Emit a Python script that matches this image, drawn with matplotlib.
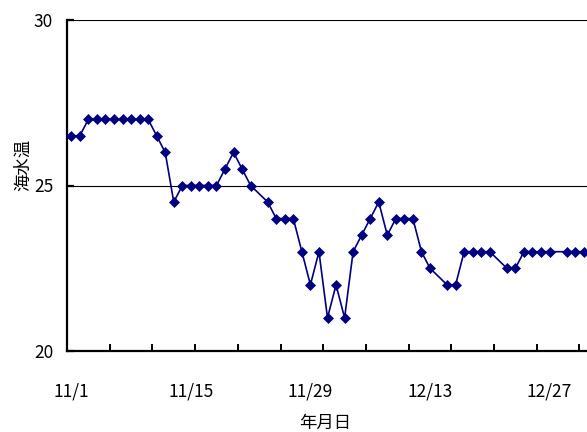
import numpy as np
import matplotlib
matplotlib.use("Agg")
import matplotlib.pyplot as plt

plt.rcParams['font.family'] = ['Noto Sans CJK JP', 'DejaVu Sans']

# Daily categories, 11/1 .. 12/31
dates = [f"11/{d}" for d in range(1, 31)] + [f"12/{d}" for d in range(1, 32)]

# Sea water temperature (None = no observation)
temps = [26.5, 26.5, 27, 27, 27, 27, 27, 27, 27, 27,
         26.5, 26, 24.5, 25, 25, 25, 25, 25, 25.5, 26,
         25.5, 25, None, 24.5, 24, 24, 24, 23, 22, 23,
         21, 22, 21, 23, 23.5, 24, 24.5, 23.5, 24, 24,
         24, 23, 22.5, None, 22, 22, 23, 23, 23, 23,
         None, 22.5, 22.5, 23, 23, 23, 23, None, 23, 23,
         23]

shown_labels = ["11/1", "11/15", "11/29", "12/13", "12/27"]
y_ticks = [20, 25, 30]

W, H = 587, 432
fig = plt.figure(figsize=(W / 100, H / 100), dpi=100)
ax = fig.add_axes([67 / W, (H - 351) / H, 521 / W, 331 / H])

x = np.arange(len(dates))
y = np.array([np.nan if v is None else v for v in temps], dtype=float)
ok = ~np.isnan(y)

navy = "#000080"
ax.plot(x[ok], y[ok], color=navy, lw=1.2, marker="D", ms=5.6,
        mfc=navy, mec=navy, mew=0.5, zorder=3, clip_on=False)

ax.set_xlim(-0.5, len(dates) - 0.5)
ax.set_ylim(20, 30)

# horizontal gridlines
for v in y_ticks[1:]:
    ax.axhline(v, color="black", lw=0.8, zorder=1)

ax.spines["top"].set_visible(False)
ax.spines["right"].set_visible(False)
for s in ("left", "bottom"):
    ax.spines[s].set_linewidth(1.6)
    ax.spines[s].set_color("black")

# x axis: labels at category centres, tick marks every 5 categories
ax.set_xticks([dates.index(l) for l in shown_labels])
ax.set_xticklabels(shown_labels)
ax.set_xticks(np.arange(-0.5, len(dates), 5), minor=True)
ax.tick_params(axis="x", which="major", length=0, pad=23, labelsize=12.5)
ax.tick_params(axis="x", which="minor", direction="in", length=5, width=1.4)

ax.set_yticks(y_ticks)
ax.tick_params(axis="y", direction="in", length=5, width=1.6, pad=10,
               labelsize=12.5)

fig.text(325 / W, 1 - 423 / H, "年月日", ha="center", va="center",
         fontsize=12.5)
fig.text(23 / W, 1 - 165 / H, "海水温", ha="center", va="center",
         rotation=90, fontsize=12.5)

fig.savefig("out.png", dpi=100)
